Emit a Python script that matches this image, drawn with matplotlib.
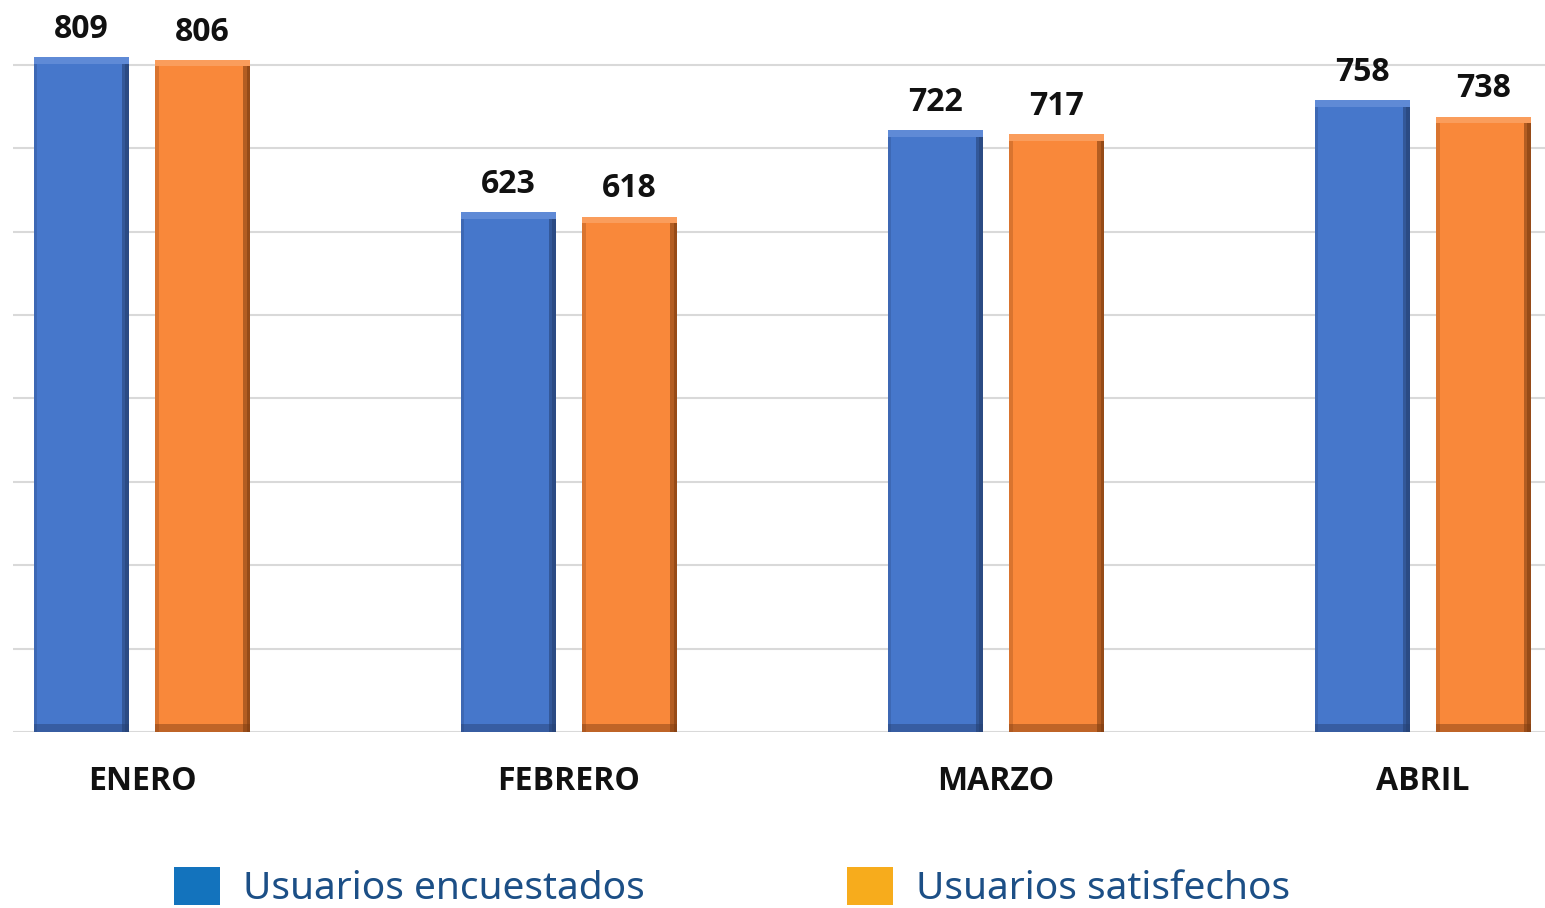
import numpy as np
import matplotlib.pyplot as plt
from matplotlib.patches import Patch

MONTHS = ["ENERO", "FEBRERO", "MARZO", "ABRIL"]
ENCUESTADOS = [809, 623, 722, 758]
SATISFECHOS = [806, 618, 717, 738]
LEGEND_LABELS = ["Usuarios encuestados", "Usuarios satisfechos"]

BAR_COLORS = ["#4677cb", "#f9883a"]
EDGE_DARK = ["#253f70", "#7a3a10"]
TOP_LIGHT = ["#5f8ad6", "#fa9d5c"]
LEGEND_COLORS = ["#1373bd", "#f7ac1c"]
TEXT_BLUE = "#1c4f86"

fig = plt.figure(figsize=(15.45, 9.08), dpi=100)
ax = fig.add_axes([13 / 1545, 176 / 908, 1532 / 1545, 732 / 908])

x = np.arange(len(MONTHS))
width = 0.222
offset = 0.142
shade = 0.016

for i, values in enumerate([ENCUESTADOS, SATISFECHOS]):
    xs = x + (offset if i else -offset)
    vals = np.array(values)
    ax.bar(xs, vals, width, color=BAR_COLORS[i], zorder=3)
    # bevel: darker right side and bottom, lighter top
    ax.bar(xs + width / 2 - shade / 2, vals, shade, color=EDGE_DARK[i], alpha=0.55, zorder=4)
    ax.bar(xs + width / 2 - shade * 0.25, vals, shade / 2, color=EDGE_DARK[i], alpha=0.5, zorder=4)
    ax.bar(xs - width / 2 + shade / 4, vals, shade / 2, color=EDGE_DARK[i], alpha=0.25, zorder=4)
    ax.bar(xs, np.full(len(vals), 10), width, color=EDGE_DARK[i], alpha=0.45, zorder=4)
    ax.bar(xs, np.full(len(vals), 8), width, bottom=vals - 8, color=TOP_LIGHT[i], zorder=4)
    for xv, v in zip(xs, vals):
        ax.annotate(str(v), (xv, v), xytext=(0, 8), textcoords="offset points",
                    ha="center", va="bottom", fontsize=23, fontweight="bold",
                    family="Open Sans", color="#111111")

ax.set_xlim(-0.302, 3.286)
ax.set_ylim(0, 877.7)
ax.set_yticks(range(0, 900, 100))
ax.yaxis.grid(True, color="#d9d9d9", linewidth=1.5, zorder=0)
ax.tick_params(axis="y", left=False, labelleft=False)
ax.tick_params(axis="x", length=0, pad=24)
ax.set_xticks(x)
ax.set_xticklabels(MONTHS, fontsize=23, fontweight="bold", family="Open Sans", color="#111111")
for s in ax.spines.values():
    s.set_visible(False)

handles = [Patch(facecolor=c, edgecolor="none") for c in LEGEND_COLORS]
leg = fig.legend(handles, LEGEND_LABELS, loc="lower left", bbox_to_anchor=(174 / 1545, 0.0),
                 ncol=2, frameon=False, borderpad=0, borderaxespad=0,
                 handlelength=1.18, handleheight=1.13, handletextpad=0.59,
                 columnspacing=5.2, prop={"family": "Noto Sans", "size": 28})
for t in leg.get_texts():
    t.set_color(TEXT_BLUE)

fig.savefig("out.png", dpi=100)
